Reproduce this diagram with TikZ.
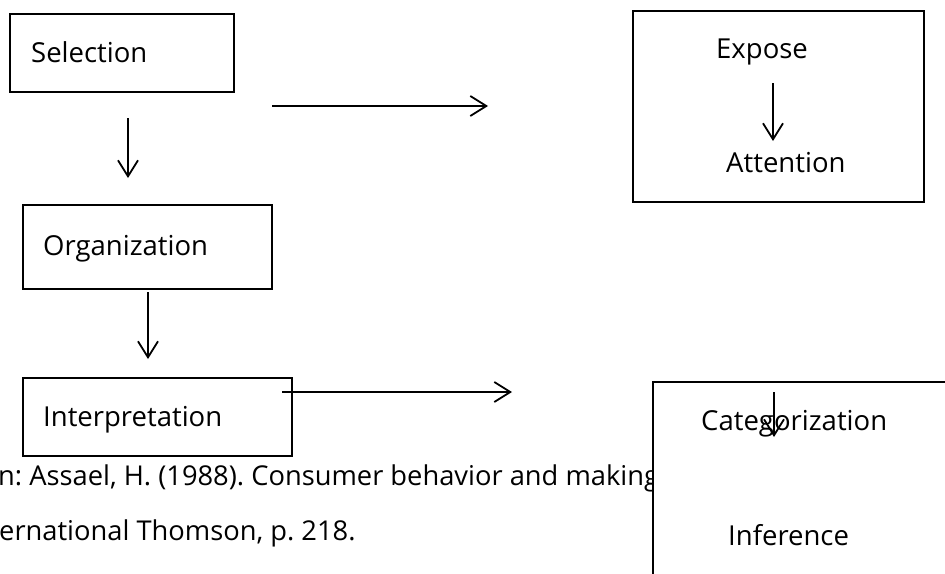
\documentclass[tikz,border=0pt]{standalone}
\usepackage{fontspec}
\setmainfont{Open Sans}
\usetikzlibrary{arrows.meta}
\begin{document}
\frenchspacing
\begin{tikzpicture}[x=1pt,y=-1pt,
  boxframe/.style={draw=black,line width=2.4pt,fill=white},
  lbl/.style={anchor=base west,inner sep=0pt,font=\fontsize{27.5}{32}\selectfont},
  caplbl/.style={anchor=base west,inner sep=0pt,font=\fontsize{27.3}{32}\selectfont},
  arr/.style={line width=1.8pt,-{Straight Barb[length=16pt,width=20pt,line width=1.8pt]}}]
\useasboundingbox (0,0) rectangle (945,573);
\clip (0,0) rectangle (945,573);
% caption (partly hidden by the Categorization box)
\node[caplbl] (cap1) at (-2,485) {n: Assael, H. (1988). Consumer behavior and making};
\node[caplbl] (cap2) at (-1,540) {ernational Thomson, p. 218.};
% boxes
\draw[boxframe] (10,14) rectangle (234,92);
\draw[boxframe] (633,11) rectangle (924,202);
\draw[boxframe] (23,205) rectangle (272,289);
\draw[boxframe] (23,378) rectangle (292,456);
\draw[boxframe] (653,382) rectangle (960,590);
% texts
\node[lbl] (sel) at (31,62) {Selection};
\node[lbl] (exp) at (716,58) {Expose};
\node[lbl] (att) at (726,172) {Attention};
\node[lbl] (org) at (43,255) {Organization};
\node[lbl] (int) at (43,426) {Interpretation};
\node[lbl] (cat) at (701,430) {Categorization};
\node[lbl] (inf) at (728,545) {Inference};
% arrow end points
\coordinate (a1s) at (128,118); \coordinate (a1e) at (128,178);
\coordinate (h1s) at (272,106); \coordinate (h1e) at (488,106);
\coordinate (a2s) at (773,83);  \coordinate (a2e) at (773,141);
\coordinate (a3s) at (148,292); \coordinate (a3e) at (148,359);
\coordinate (h2s) at (282,392); \coordinate (h2e) at (512,392);
\coordinate (a4s) at (774,392); \coordinate (a4e) at (774,437);
\draw[arr] (a1s) -- (a1e);
\draw[arr] (h1s) -- (h1e);
\draw[arr] (a2s) -- (a2e);
\draw[arr] (a3s) -- (a3e);
\draw[arr] (h2s) -- (h2e);
\draw[arr] (a4s) -- (a4e);
\end{tikzpicture}
\end{document}
